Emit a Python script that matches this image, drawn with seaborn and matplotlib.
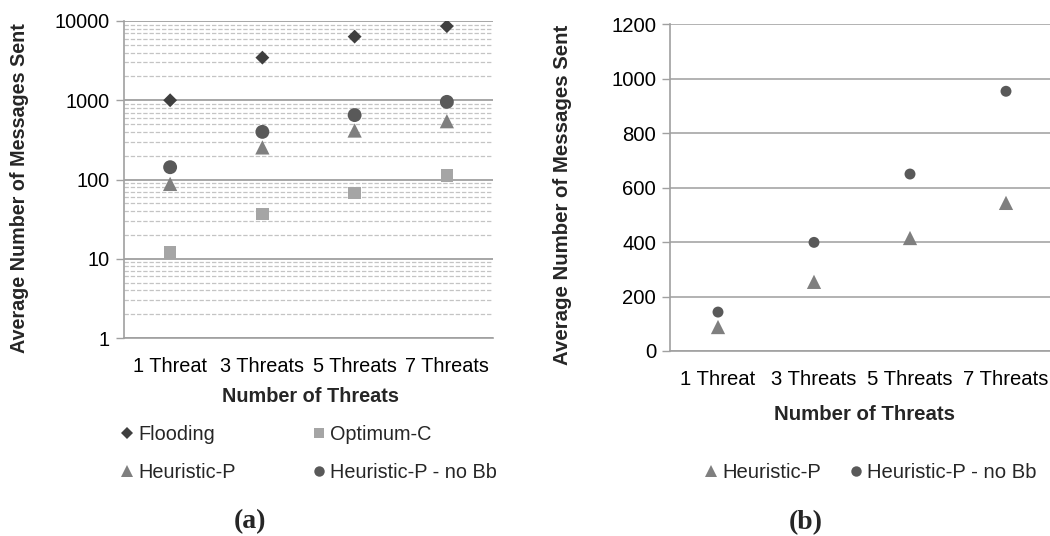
import matplotlib
matplotlib.use('Agg')
import matplotlib.pyplot as plt
from matplotlib.lines import Line2D
from matplotlib.ticker import FixedLocator, NullFormatter, FixedFormatter
import seaborn as sns
import pandas as pd

# ---------------- data ----------------
categories = ['1 Threat', '3 Threats', '5 Threats', '7 Threats']
flooding = [1000, 3450, 6350, 8600]
optimum_c = [12, 37, 68, 112]
heuristic_p = [88, 254, 415, 544]
heuristic_p_nobb = [143, 399, 650, 954]

series_a = ['Flooding', 'Optimum-C', 'Heuristic-P', 'Heuristic-P - no Bb']
series_b = ['Heuristic-P', 'Heuristic-P - no Bb']
y_ticks_a = [1, 10, 100, 1000, 10000]
y_ticks_b = [0, 200, 400, 600, 800, 1000, 1200]

colors = {'Flooding': '#3f3f3f', 'Optimum-C': '#a5a5a5',
          'Heuristic-P': '#7f7f7f', 'Heuristic-P - no Bb': '#595959'}
markers = {'Flooding': 'D', 'Optimum-C': 's',
           'Heuristic-P': '^', 'Heuristic-P - no Bb': 'o'}
sizes_a = {'Flooding': 50, 'Optimum-C': 80, 'Heuristic-P': 105, 'Heuristic-P - no Bb': 100}
sizes_b = {'Heuristic-P': 105, 'Heuristic-P - no Bb': 62}

values = {'Flooding': flooding, 'Optimum-C': optimum_c,
          'Heuristic-P': heuristic_p, 'Heuristic-P - no Bb': heuristic_p_nobb}

rows = []
for s in series_a:
    for c, v in zip(categories, values[s]):
        rows.append({'threats': c, 'messages': v, 'series': s})
df_a = pd.DataFrame(rows)
df_a['threats'] = pd.Categorical(df_a['threats'], categories=categories, ordered=True)
df_b = df_a[df_a['series'].isin(series_b)].copy()

# ---------------- style ----------------
sns.set_theme(style='white')
plt.rcParams['font.family'] = ['Liberation Sans', 'DejaVu Sans']
plt.rcParams['axes.unicode_minus'] = False

fig = plt.figure(figsize=(10.5, 5.36), dpi=100)
W, H = 1050, 536
ax1 = fig.add_axes([124 / W, 1 - 338 / H, 369 / W, 317 / H])
ax2 = fig.add_axes([670 / W, 1 - 351 / H, 384 / W, 326.7 / H])

grid_c = '#a6a6a6'
axis_c = '#a0a0a0'


def draw(ax, df, order, sizes):
    sns.scatterplot(data=df, x='threats', y='messages', hue='series', style='series',
                    size='series', hue_order=order, style_order=order, size_order=order,
                    palette={k: colors[k] for k in order},
                    markers={k: markers[k] for k in order},
                    sizes={k: sizes[k] for k in order},
                    linewidth=0, legend=False, ax=ax, zorder=3)


def style_axes(ax, fs):
    ax.set_xlim(-0.5, len(categories) - 0.5)
    ax.xaxis.set_major_locator(FixedLocator(range(len(categories))))
    ax.xaxis.set_major_formatter(FixedFormatter(categories))
    ax.xaxis.set_minor_locator(FixedLocator([i - 0.5 for i in range(len(categories) + 1)]))
    ax.tick_params(axis='x', which='major', length=0, labelsize=fs, pad=14, colors='black')
    ax.tick_params(axis='x', which='minor', length=6, width=1, color=axis_c, direction='out')
    ax.tick_params(axis='y', which='major', length=6, width=1, color=axis_c, labelsize=fs,
                   labelcolor='black', pad=4, left=True)
    for side in ['top', 'right']:
        ax.spines[side].set_visible(False)
    for side in ['left', 'bottom']:
        ax.spines[side].set_color(axis_c)
        ax.spines[side].set_linewidth(1.2)
    ax.set_axisbelow(True)


draw(ax1, df_a, series_a, sizes_a)
ax1.set_yscale('log')
ax1.set_ylim(1, 10000)
ax1.yaxis.set_major_locator(FixedLocator(y_ticks_a))
ax1.yaxis.set_major_formatter(FixedFormatter([str(t) for t in y_ticks_a]))
minor = [m * 10 ** e for e in range(0, 4) for m in range(2, 10)]
ax1.yaxis.set_minor_locator(FixedLocator(minor))
ax1.yaxis.set_minor_formatter(NullFormatter())
ax1.tick_params(axis='y', which='minor', length=0)
ax1.grid(True, axis='y', which='major', color=grid_c, linewidth=1.4, linestyle='-')
ax1.grid(True, axis='y', which='minor', color='#c4c4c4', linewidth=0.9, linestyle=(0, (3.5, 1.5)))
style_axes(ax1, 14.3)

draw(ax2, df_b, series_b, sizes_b)
ax2.set_ylim(0, 1200)
ax2.yaxis.set_major_locator(FixedLocator(y_ticks_b))
ax2.yaxis.set_major_formatter(FixedFormatter([str(t) for t in y_ticks_b]))
ax2.grid(True, axis='y', which='major', color=grid_c, linewidth=1.2, linestyle='-')
style_axes(ax2, 14.6)

# axis labels
ax1.set_xlabel('Number of Threats', fontsize=14.3, fontweight='bold')
ax1.set_ylabel('Average Number of Messages Sent', fontsize=14.2, fontweight='bold')
ax1.xaxis.set_label_coords((311 - 124) / 369, (338 - 397) / 317)
ax1.xaxis.label.set_va('center')
ax1.yaxis.set_label_coords((19.5 - 124) / 369, (338 - 188) / 317)
ax1.yaxis.label.set_va('center')

ax2.set_xlabel('Number of Threats', fontsize=14.7, fontweight='bold')
ax2.set_ylabel('Average Number of Messages Sent', fontsize=14.7, fontweight='bold')
ax2.xaxis.set_label_coords((865 - 670) / 384, (351 - 415) / 326.7)
ax2.xaxis.label.set_va('center')
ax2.yaxis.set_label_coords((563 - 670) / 384, (351 - 195) / 326.7)
ax2.yaxis.label.set_va('center')

# legends
leg_ms = {'Flooding': 6, 'Optimum-C': 7.5, 'Heuristic-P': 8, 'Heuristic-P - no Bb': 7.5}


def handle(s):
    return Line2D([], [], linestyle='none', marker=markers[s], color=colors[s],
                  markeredgewidth=0, markersize=leg_ms[s])


order_leg_a = ['Flooding', 'Heuristic-P', 'Optimum-C', 'Heuristic-P - no Bb']
fig.legend([handle(s) for s in order_leg_a], order_leg_a, ncol=2, frameon=False,
           loc='upper left', bbox_to_anchor=(121 / W, 1 - 425 / H),
           fontsize=14.3, handlelength=0.6, handletextpad=0.25,
           columnspacing=3.9, labelspacing=0.95, borderpad=0, borderaxespad=0)

fig.legend([handle(s) for s in series_b], series_b, ncol=2, frameon=False,
           loc='upper left', bbox_to_anchor=(705 / W, 1 - 463 / H),
           fontsize=14.6, handlelength=0.6, handletextpad=0.25,
           columnspacing=1.4, borderpad=0, borderaxespad=0)

# panel captions
fig.text(250 / W, 1 - 522 / H, '(a)', fontsize=20, fontweight='bold',
         family=['Liberation Serif', 'DejaVu Serif'], ha='center', va='center')
fig.text(806 / W, 1 - 523 / H, '(b)', fontsize=20, fontweight='bold',
         family=['Liberation Serif', 'DejaVu Serif'], ha='center', va='center')

fig.savefig('out.png', dpi=100)
